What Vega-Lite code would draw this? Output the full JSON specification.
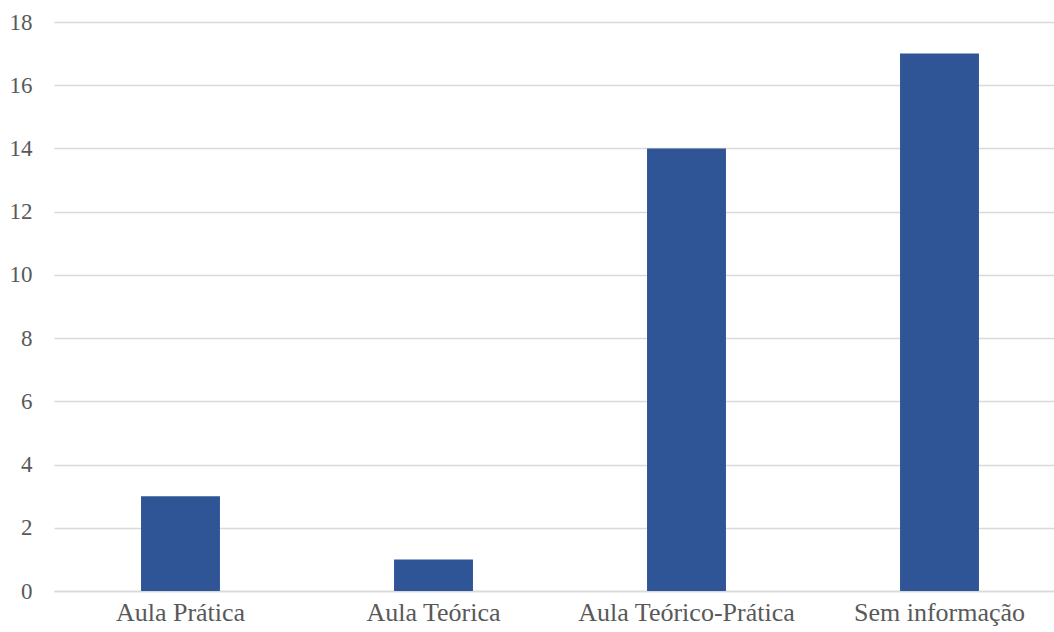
{
  "$schema": "https://vega.github.io/schema/vega-lite/v6.json",
  "autosize": {"type": "none"},
  "padding": {"left": 54, "top": 22, "right": 0, "bottom": 41},
  "width": 1012,
  "height": 569,
  "background": "white",
  "data": {"values": [
    {"categoria": "Aula Prática", "valor": 3},
    {"categoria": "Aula Teórica", "valor": 1},
    {"categoria": "Aula Teórico-Prática", "valor": 14},
    {"categoria": "Sem informação", "valor": 17}
  ]},
  "mark": {"type": "bar", "color": "#2F5597"},
  "encoding": {
    "x": {"field": "categoria", "type": "nominal", "sort": null,
      "scale": {"paddingInner": 0.688, "paddingOuter": 0.344},
      "axis": {"title": null, "labelAngle": 0, "domain": true, "domainColor": "#D9D9D9", "domainWidth": 1.5, "ticks": false,
        "labelFont": "Liberation Serif", "labelFontSize": 26, "labelColor": "#595959", "labelPadding": 8, "labelLimit": 0, "labelOverlap": false}},
    "y": {"field": "valor", "type": "quantitative",
      "scale": {"domain": [0, 18], "nice": false},
      "axis": {"title": null, "values": [0,2,4,6,8,10,12,14,16,18], "domain": false, "ticks": false,
        "gridColor": "#D9D9D9", "gridWidth": 1.5,
        "labelFont": "Liberation Serif", "labelFontSize": 23, "labelColor": "#595959", "labelPadding": 22}}
  },
  "config": {"view": {"stroke": null}}
}
